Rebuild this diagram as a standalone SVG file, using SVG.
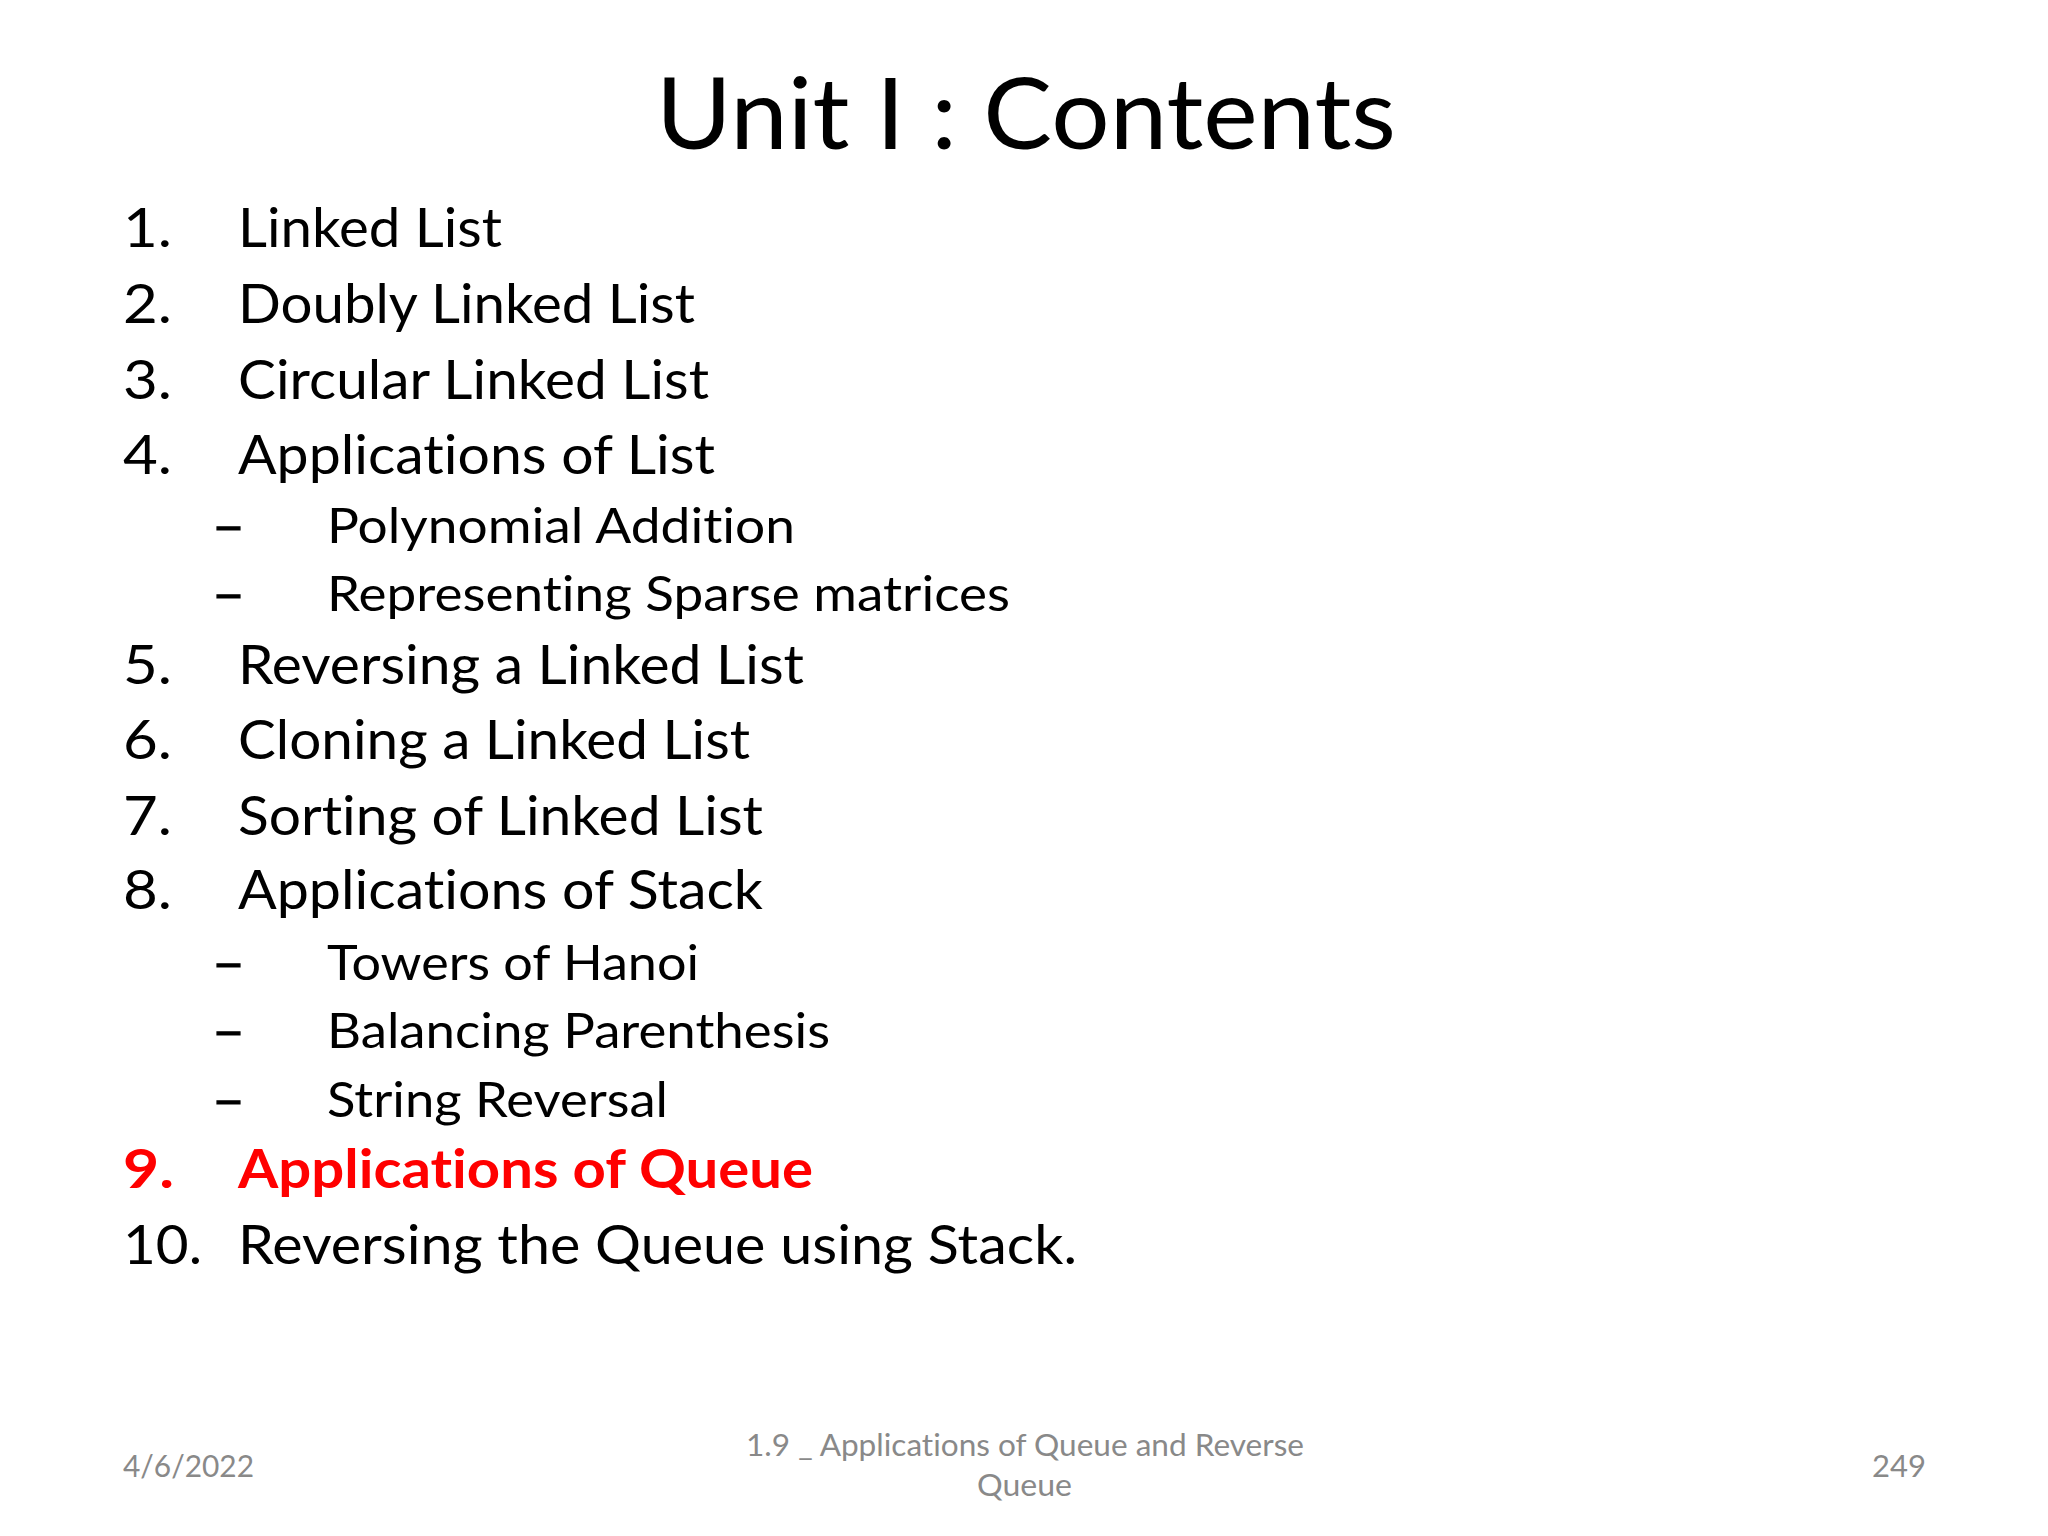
<svg xmlns="http://www.w3.org/2000/svg" width="2048" height="1536" viewBox="0 0 2048 1536">
<style>
text { font-family: Lato, "Liberation Sans", sans-serif; font-variant-ligatures: none; font-feature-settings: "liga" 0, "clig" 0; }
.title { font-size: 99px; fill: #000000; }
.num { font-size: 54px; fill: #000000; }
.main { font-size: 54px; fill: #000000; }
.sub { font-size: 48px; fill: #000000; }
.dash { font-size: 48px; fill: #000000; stroke: #000000; stroke-width: 1.2px; }
.hl { fill: #FF0000; font-weight: bold; }
.foot { font-size: 30px; fill: #898989; }
</style>
<rect x="0" y="0" width="2048" height="1536" fill="#FFFFFF"/>
<g id="title">
<text class="title" x="656" y="149" textLength="740" lengthAdjust="spacingAndGlyphs">Unit I : Contents</text>
</g>
<g id="item1">
<text class="num" x="123" y="247" textLength="49" lengthAdjust="spacingAndGlyphs">1.</text>
<text class="main" x="238" y="247" textLength="264" lengthAdjust="spacingAndGlyphs">Linked List</text>
</g>
<g id="item2">
<text class="num" x="123" y="323" textLength="49" lengthAdjust="spacingAndGlyphs">2.</text>
<text class="main" x="238" y="323" textLength="457" lengthAdjust="spacingAndGlyphs">Doubly Linked List</text>
</g>
<g id="item3">
<text class="num" x="123" y="399" textLength="49" lengthAdjust="spacingAndGlyphs">3.</text>
<text class="main" x="238" y="399" textLength="471" lengthAdjust="spacingAndGlyphs">Circular Linked List</text>
</g>
<g id="item4">
<text class="num" x="123" y="474" textLength="49" lengthAdjust="spacingAndGlyphs">4.</text>
<text class="main" x="238" y="474" textLength="477" lengthAdjust="spacingAndGlyphs">Applications of List</text>
</g>
<g id="item4a">
<text class="dash" x="212" y="543" textLength="33" lengthAdjust="spacingAndGlyphs">–</text>
<text class="sub" x="327" y="543" textLength="468" lengthAdjust="spacingAndGlyphs">Polynomial Addition</text>
</g>
<g id="item4b">
<text class="dash" x="212" y="611" textLength="33" lengthAdjust="spacingAndGlyphs">–</text>
<text class="sub" x="327" y="611" textLength="683" lengthAdjust="spacingAndGlyphs">Representing Sparse matrices</text>
</g>
<g id="item5">
<text class="num" x="123" y="684" textLength="49" lengthAdjust="spacingAndGlyphs">5.</text>
<text class="main" x="238" y="684" textLength="566" lengthAdjust="spacingAndGlyphs">Reversing a Linked List</text>
</g>
<g id="item6">
<text class="num" x="123" y="759" textLength="49" lengthAdjust="spacingAndGlyphs">6.</text>
<text class="main" x="238" y="759" textLength="512" lengthAdjust="spacingAndGlyphs">Cloning a Linked List</text>
</g>
<g id="item7">
<text class="num" x="123" y="835" textLength="49" lengthAdjust="spacingAndGlyphs">7.</text>
<text class="main" x="238" y="835" textLength="525" lengthAdjust="spacingAndGlyphs">Sorting of Linked List</text>
</g>
<g id="item8">
<text class="num" x="123" y="909" textLength="49" lengthAdjust="spacingAndGlyphs">8.</text>
<text class="main" x="238" y="909" textLength="525" lengthAdjust="spacingAndGlyphs">Applications of Stack</text>
</g>
<g id="item8a">
<text class="dash" x="212" y="980" textLength="33" lengthAdjust="spacingAndGlyphs">–</text>
<text class="sub" x="327" y="980" textLength="372" lengthAdjust="spacingAndGlyphs">Towers of Hanoi</text>
</g>
<g id="item8b">
<text class="dash" x="212" y="1048" textLength="33" lengthAdjust="spacingAndGlyphs">–</text>
<text class="sub" x="327" y="1048" textLength="503" lengthAdjust="spacingAndGlyphs">Balancing Parenthesis</text>
</g>
<g id="item8c">
<text class="dash" x="212" y="1117" textLength="33" lengthAdjust="spacingAndGlyphs">–</text>
<text class="sub" x="327" y="1117" textLength="341" lengthAdjust="spacingAndGlyphs">String Reversal</text>
</g>
<g id="item9">
<text class="num hl" x="123" y="1188" textLength="51" lengthAdjust="spacingAndGlyphs">9.</text>
<text class="main hl" x="238" y="1188" textLength="575" lengthAdjust="spacingAndGlyphs">Applications of Queue</text>
</g>
<g id="item10">
<text class="num" x="123" y="1264" textLength="79" lengthAdjust="spacingAndGlyphs">10.</text>
<text class="main" x="238" y="1264" textLength="839" lengthAdjust="spacingAndGlyphs">Reversing the Queue using Stack.</text>
</g>
<g id="footer-date">
<text class="foot" x="123" y="1477" textLength="131" lengthAdjust="spacingAndGlyphs">4/6/2022</text>
</g>
<g id="footer-title">
<text class="foot" x="746" y="1456" textLength="558" lengthAdjust="spacingAndGlyphs">1.9 _ Applications of Queue and Reverse</text>
<text class="foot" x="977" y="1496" textLength="95" lengthAdjust="spacingAndGlyphs">Queue</text>
</g>
<g id="footer-page">
<text class="foot" x="1872" y="1477" textLength="54" lengthAdjust="spacingAndGlyphs">249</text>
</g>
<g id="connectors"></g>
</svg>
